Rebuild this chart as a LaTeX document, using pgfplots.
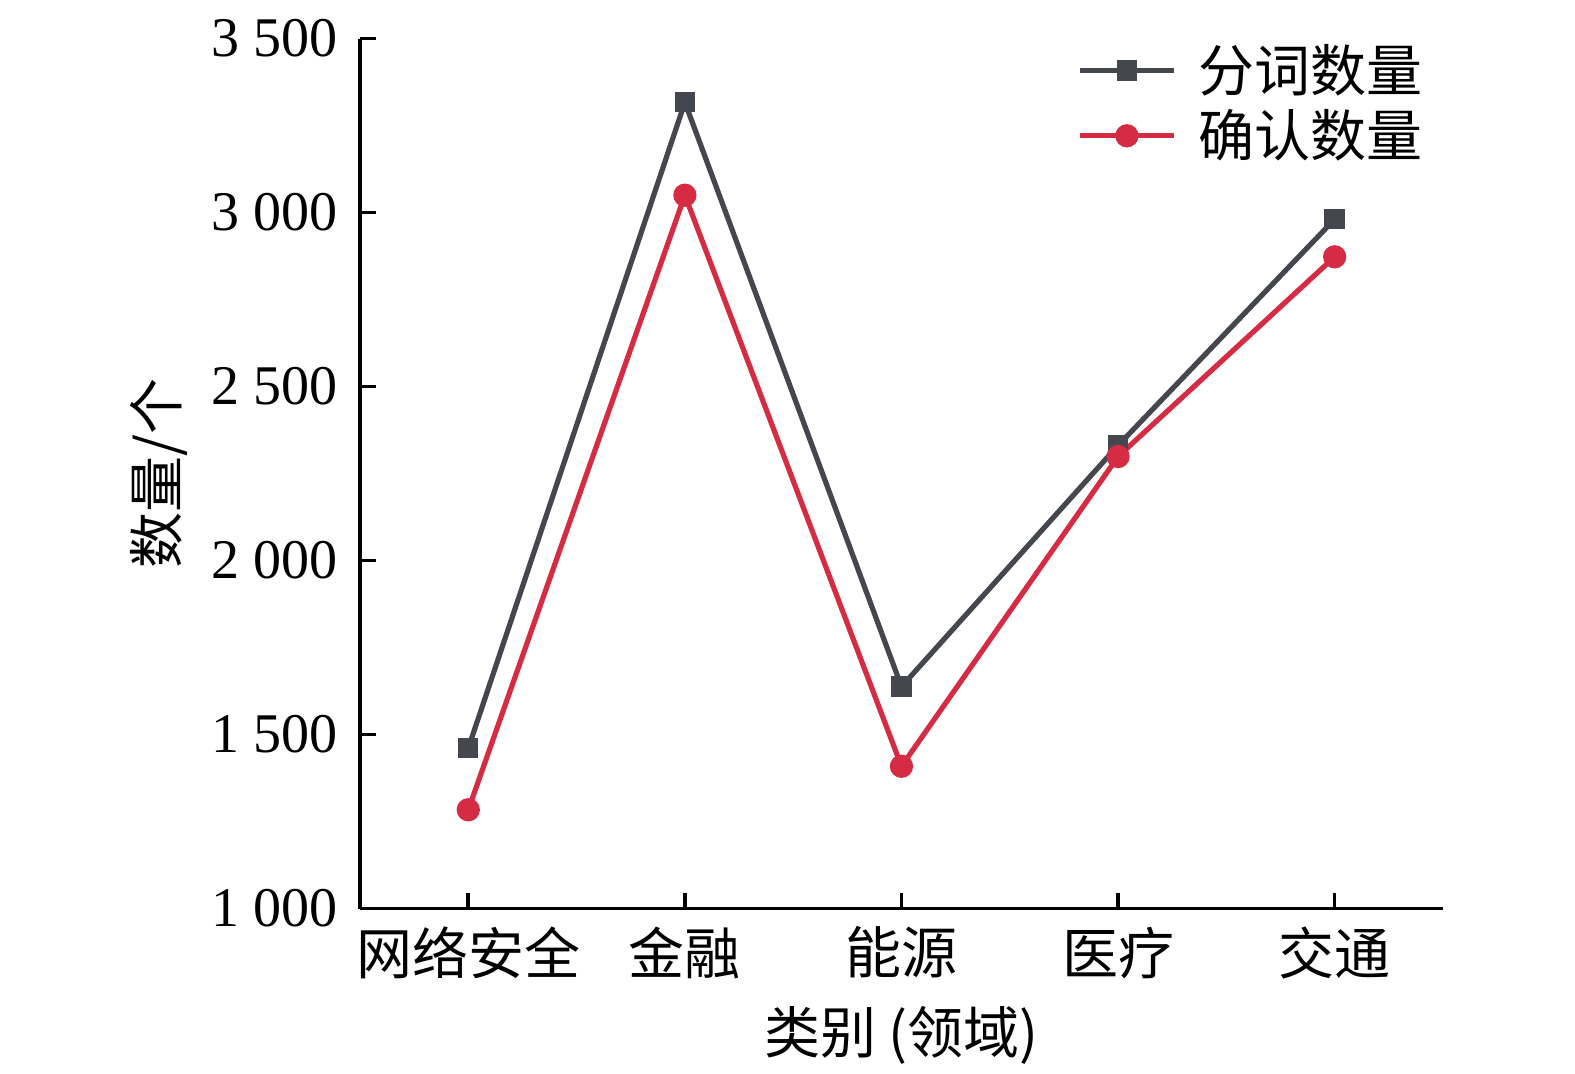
\documentclass[border=0pt]{standalone}
\usepackage{fontspec}
\setmainfont{Liberation Serif}
\newfontfamily\cjk{Noto Sans CJK SC}
\usepackage{pgfplots}
\pgfplotsset{compat=1.18}
\definecolor{cgray}{HTML}{45474E}
\definecolor{cred}{HTML}{D52B43}
\begin{document}
\begin{tikzpicture}
\path[use as bounding box] (-90pt,-41.1pt) rectangle (303.75pt,227.15pt);
\begin{axis}[
  scale only axis,
  width=270.75pt, height=217.5pt,
  xmin=-0.5, xmax=4.5, ymin=1000, ymax=3500,
  axis lines=left,
  axis line style={line width=0.9pt, -},
  tick style={line width=0.9pt, black},
  major tick length=4pt,
  tick align=inside,
  xtick={0,1,2,3,4},
  xticklabels={网络安全,金融,能源,医疗,交通},
  ytick={1000,1500,2000,2500,3000,3500},
  /pgf/number format/assume math mode=true,
  /pgf/number format/1000 sep={\ },
  yticklabel style={font=\fontsize{14}{16}\selectfont, xshift=-2pt},
  xticklabel style={font=\cjk\fontsize{14}{16}\selectfont, yshift=-1pt},
  xlabel={类别 (领域)},
  ylabel={数量/个},
  xlabel style={font=\cjk\fontsize{14}{16}\selectfont, at={(axis description cs:0.5,-0.146)}, anchor=center},
  ylabel style={font=\cjk\fontsize{14}{16}\selectfont, at={(axis description cs:-0.186,0.5)}, anchor=center},
  legend style={draw=none, fill=none, font=\cjk\fontsize{14}{16}\selectfont,
    at={(axis description cs:1.0,1.013)}, anchor=north east, row sep=-1pt, column sep=3.5pt},
  legend cell align=left,
  legend image code/.code={\draw[mark repeat=2,mark phase=2] plot coordinates {(0cm,0cm) (0.41cm,0cm) (0.82cm,0cm)};},
]
\addplot[color=cgray, line width=1.3pt, mark=square*, mark size=1.9pt] coordinates {
  (0,1461) (1,3317) (2,1638) (3,2331) (4,2981)};
\addlegendentry{分词数量}
\addplot[color=cred, line width=1.3pt, mark=*, mark size=2.25pt] coordinates {
  (0,1284) (1,3050) (2,1409) (3,2299) (4,2873)};
\addlegendentry{确认数量}
\end{axis}
\end{tikzpicture}
\end{document}
